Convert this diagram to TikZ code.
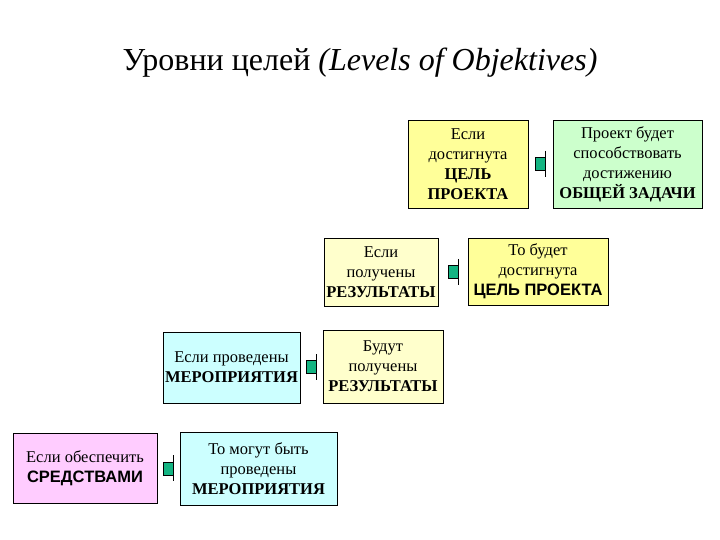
\documentclass[tikz,border=0pt]{standalone}
\usepackage{fontspec}
\setmainfont{Liberation Serif}
\newfontfamily\arialfont{Liberation Sans}
\usepackage{tikz}
\usetikzlibrary{calc}
\definecolor{goal_yellow}{RGB}{255, 255, 153}
\definecolor{pale_yellow}{RGB}{255, 255, 204}
\definecolor{goal_green}{RGB}{204, 255, 204}
\definecolor{act_cyan}{RGB}{204, 255, 255}
\definecolor{res_pink}{RGB}{255, 204, 255}
\definecolor{plug_teal}{RGB}{20, 180, 130}
\tikzstyle{lvl}=[rectangle,draw=black,line width=0.6pt,align=center,
  inner sep=1pt,font=\fontsize{16.5}{20}\selectfont]
\tikzstyle{plug}=[rectangle,fill=plug_teal,draw=black,line width=0.5pt,
  inner sep=0pt,minimum width=10pt,minimum height=13pt]
\tikzstyle{link}=[line width=0.6pt,to path={($(\tikztostart.east)!0.5!(\tikztotarget.west)$)
  node [style=plug] {} +(5,-13) -- +(5,13)}]
\tikzstyle{none}=[]

\begin{document}
\begin{tikzpicture}[x=1pt, y=-1pt]
        \useasboundingbox (0, 0) rectangle (720, 540);
        \node [style=none] (0) at (360, 63) {\fontsize{32}{36}\selectfont Уровни целей \textit{(Levels of Objektives)}};
        \node [style=lvl, fill=goal_yellow, minimum width=120, minimum height=88] (1) at (468, 164) {Если\\достигнута\\\textbf{ЦЕЛЬ}\\\textbf{ПРОЕКТА}};
        \node [style=lvl, fill=goal_green, minimum width=149, minimum height=88] (2) at (627.5, 164) {Проект будет\\способствовать\\достижению\\\textbf{ОБЩЕЙ ЗАДАЧИ}};
        \node [style=lvl, fill=pale_yellow, minimum width=114, minimum height=68] (3) at (381, 272) {Если\\получены\\\textbf{РЕЗУЛЬТАТЫ}};
        \node [style=lvl, fill=goal_yellow, minimum width=140, minimum height=67] (4) at (538, 271.5) {То будет\\достигнута\\{\arialfont\bfseries ЦЕЛЬ ПРОЕКТА}};
        \node [style=lvl, fill=act_cyan, minimum width=137, minimum height=71] (5) at (231.5, 367.5) {Если проведены\\\textbf{МЕРОПРИЯТИЯ}};
        \node [style=lvl, fill=pale_yellow, minimum width=120, minimum height=73] (6) at (383, 366.5) {Будут\\получены\\\textbf{РЕЗУЛЬТАТЫ}};
        \node [style=lvl, fill=res_pink, minimum width=144, minimum height=70] (7) at (85, 468) {Если обеспечить\\{\arialfont\bfseries СРЕДСТВАМИ}};
        \node [style=lvl, fill=act_cyan, minimum width=157, minimum height=73] (8) at (258.5, 468.5) {То могут быть\\проведены\\\textbf{МЕРОПРИЯТИЯ}};
        \draw [style=link] (1) to (2);
        \draw [style=link] (3) to (4);
        \draw [style=link] (5) to (6);
        \draw [style=link] (7) to (8);
\end{tikzpicture}
\end{document}
